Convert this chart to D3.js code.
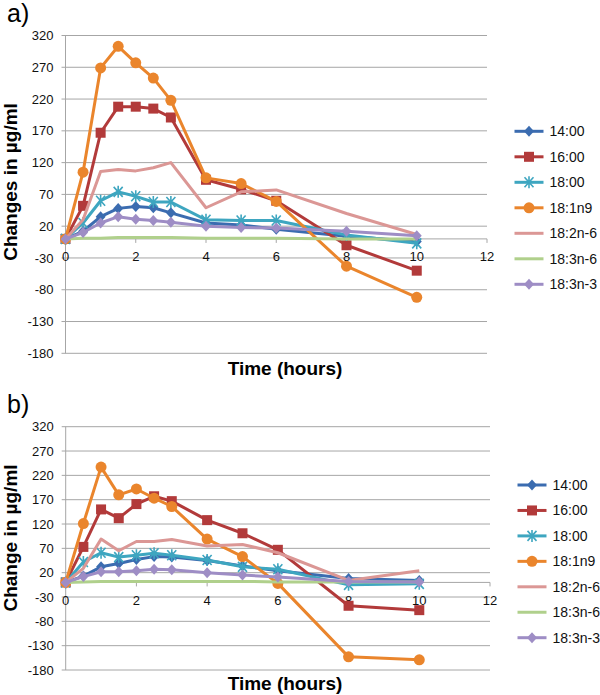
<!DOCTYPE html>
<html><head><meta charset="utf-8">
<script src="https://cdn.jsdelivr.net/npm/d3@7"></script>
<style>
body{margin:0;background:#fff;}
text{font-family:"Liberation Sans",Arial,Helvetica,sans-serif;}
</style></head>
<body><svg id="c" width="600" height="695"></svg>
<script>
const hours = [0,0.5,1,1.5,2,2.5,3,4,5,6,8,10];
const seriesNames = ["14:00","16:00","18:00","18:1n9","18:2n-6","18:3n-6","18:3n-3"];
const yTicks = [320,270,220,170,120,70,20,-30,-80,-130,-180];
const xTicks = [0,2,4,6,8,10,12];

// Panel a
const a_1400  = [0, 12, 35, 48, 51, 49, 41, 25, 22, 15, 4, -4];
const a_1600  = [0, 52, 167, 208, 208, 205, 191, 93, 78, 60, -10, -50];
const a_1800  = [0, 25, 60, 74, 67, 58, 58, 30, 29, 29, 6, -7];
const a_181n9 = [0, 105, 269, 303, 277, 253, 218, 96, 87, 59, -43, -92];
const a_182n6 = [0, 30, 106, 109, 107, 112, 120, 49, 74, 77, 40, 7];
const a_183n6 = [0, 1, 1, 2, 2, 2, 2, 1, 1, 1, 0, 0];
const a_183n3 = [0, 10, 25, 35, 31, 29, 26, 20, 18, 17, 12, 5];

// Panel b
const b_1400  = [0, 13, 32, 39, 47, 53, 52, 45, 34, 24, 8, 4];
const b_1600  = [0, 73, 150, 132, 161, 177, 167, 128, 101, 67, -48, -57];
const b_1800  = [0, 42, 61, 52, 56, 60, 56, 46, 32, 27, -5, -3];
const b_181n9 = [0, 121, 237, 180, 192, 173, 156, 89, 53, -2, -153, -159];
const b_182n6 = [0, 29, 89, 65, 84, 84, 88, 75, 78, 61, 4, 24];
const b_183n6 = [0, 1, 2, 2, 2, 2, 2, 2, 2, 1, 1, 1];
const b_183n3 = [0, 12, 22, 22, 24, 27, 26, 20, 15, 11, 2, 1];

const colors = ["#3b6cb0","#b23a3a","#3ea6c0","#ea852c","#db9795","#b0d08c","#9e8dc5"];
const markers = ["diamond","square","asterisk","circle","none","none","diamond"];

const svg = d3.select("#c");

function drawMarker(g, type, x, y, color){
  if(type==="diamond"){
    g.append("path").attr("d",`M${x},${y-5.5}L${x+5},${y}L${x},${y+5.5}L${x-5},${y}Z`).attr("fill",color);
  } else if(type==="square"){
    g.append("rect").attr("x",x-5).attr("y",y-5).attr("width",10).attr("height",10).attr("fill",color);
  } else if(type==="circle"){
    g.append("circle").attr("cx",x).attr("cy",y).attr("r",5.5).attr("fill",color);
  } else if(type==="asterisk"){
    g.append("path").attr("d",`M${x-4.5},${y-5}L${x+4.5},${y+5}M${x-4.5},${y+5}L${x+4.5},${y-5}M${x},${y-6}L${x},${y+6}`)
      .attr("stroke",color).attr("stroke-width",1.6).attr("fill","none");
  }
}

function panel(cfg){
  const x = d3.scaleLinear().domain([0,12]).range(cfg.xr);
  const y = d3.scaleLinear().domain([-180,320]).range([cfg.yr[1],cfg.yr[0]]);
  const g = svg.append("g");
  // gridlines
  g.selectAll(".grid").data(yTicks).enter().append("line")
    .attr("x1",x(0)-4).attr("x2",x(12)).attr("y1",d=>y(d)).attr("y2",d=>y(d))
    .attr("stroke","#a6a6a6").attr("stroke-width",1);
  // y axis line
  g.append("line").attr("x1",x(0)).attr("x2",x(0)).attr("y1",y(320)).attr("y2",y(-180))
    .attr("stroke","#a6a6a6").attr("stroke-width",1);
  // x axis line at 0
  g.append("line").attr("x1",x(0)).attr("x2",x(12)).attr("y1",y(0)).attr("y2",y(0))
    .attr("stroke","#a6a6a6").attr("stroke-width",1);
  g.selectAll(".xt").data(xTicks).enter().append("line")
    .attr("x1",d=>x(d)).attr("x2",d=>x(d)).attr("y1",y(0)).attr("y2",y(0)+4)
    .attr("stroke","#a6a6a6").attr("stroke-width",1);
  // y tick labels
  g.selectAll(".yl").data(yTicks).enter().append("text")
    .attr("x",x(0)-12).attr("y",d=>y(d)).attr("dy","0.35em").attr("text-anchor","end")
    .attr("font-size",13).attr("fill","#111").text(d=>d);
  // x tick labels
  g.selectAll(".xl").data(xTicks).enter().append("text")
    .attr("x",d=>x(d)).attr("y",y(0)+18).attr("dy","0.35em").attr("text-anchor","middle")
    .attr("font-size",13).attr("fill","#111").text(d=>d);
  // series
  cfg.data.forEach((vals,i)=>{
    const pts = hours.map((h,j)=>[x(h),y(vals[j])]);
    g.append("path").attr("d",d3.line()(pts)).attr("fill","none")
      .attr("stroke",colors[i]).attr("stroke-width",3).attr("stroke-linejoin","round");
    pts.forEach(p=>drawMarker(g,markers[i],p[0],p[1],colors[i]));
  });
  // titles
  g.append("text").attr("x",cfg.xTitle[0]).attr("y",cfg.xTitle[1]).attr("text-anchor","middle")
    .attr("font-size",19).attr("font-weight","bold").text("Time (hours)");
  g.append("text").attr("transform",`translate(${cfg.yTitle[0]},${cfg.yTitle[1]}) rotate(-90)`)
    .attr("text-anchor","middle").attr("font-size",19).attr("font-weight","bold").text(cfg.yLabel);
  g.append("text").attr("x",7).attr("y",cfg.tag[1]).attr("font-size",25).text(cfg.tag[0]);
  // legend
  seriesNames.forEach((n,i)=>{
    const ly = cfg.leg[1] + i*cfg.leg[2];
    const lx = cfg.leg[0];
    g.append("line").attr("x1",lx).attr("x2",lx+29).attr("y1",ly).attr("y2",ly)
      .attr("stroke",colors[i]).attr("stroke-width",3);
    drawMarker(g,markers[i],lx+14.5,ly,colors[i]);
    g.append("text").attr("x",lx+35).attr("y",ly).attr("dy","0.36em")
      .attr("font-size",14).attr("fill","#111").text(n);
  });
}

panel({xr:[65.5,487], yr:[35.5,353.3],
  data:[a_1400,a_1600,a_1800,a_181n9,a_182n6,a_183n6,a_183n3],
  xTitle:[285,374.5], yTitle:[17,182], yLabel:"Changes in µg/ml", tag:["a)",22],
  leg:[514.5,131.3,25.5]});
panel({xr:[65.7,490], yr:[426.7,670],
  data:[b_1400,b_1600,b_1800,b_181n9,b_182n6,b_183n6,b_183n3],
  xTitle:[285,690], yTitle:[17,538], yLabel:"Change in µg/ml", tag:["b)",413],
  leg:[517.5,485,25.45]});
</script></body></html>
